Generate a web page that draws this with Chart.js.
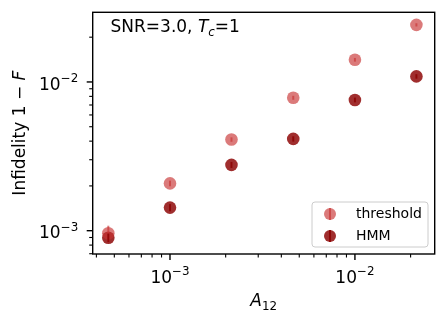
<!DOCTYPE html>
<html><head><meta charset="utf-8">
<script src="https://cdn.jsdelivr.net/npm/chart.js@4/dist/chart.umd.min.js"></script>
<style>html,body{margin:0;padding:0;background:#fff}</style>
</head><body>
<canvas id="c" width="448" height="324"></canvas>
<script>
// ---- data ----
const A12 = [4.64e-4, 1.0e-3, 2.15e-3, 4.64e-3, 1.0e-2, 2.15e-2];
const thresholdInf = [9.6e-4, 2.08e-3, 4.10e-3, 7.83e-3, 1.41e-2, 2.42e-2];
const thresholdErr = [1.2e-4, 0.9e-4, 1.4e-4, 2.4e-4, 4.0e-4, 6.0e-4];
const hmmInf = [8.97e-4, 1.43e-3, 2.77e-3, 4.14e-3, 7.57e-3, 1.09e-2];
const hmmErr = [0.6e-4, 0.8e-4, 1.3e-4, 1.7e-4, 2.8e-4, 3.8e-4];
const xMajorTicks = [1e-3, 1e-2];
const xMajorExp = ['\u22123', '\u22122'];
const yMajorTicks = [1e-3, 1e-2];
const yMajorExp = ['\u22123', '\u22122'];
const seriesLabels = ['threshold', 'HMM'];
const X_MIN = 3.82e-4, X_MAX = 2.70e-2;
const Y_MIN = 6.97e-4, Y_MAX = 2.94e-2;

const COL_T = 'rgba(200,50,50,0.65)';
const COL_H = 'rgba(139,0,0,0.82)';
const FONT = '"DejaVu Sans", sans-serif';
const FS = 17;

function minorTicks(lo, hi) {
  const out = [];
  for (let e = Math.floor(Math.log10(lo)); e <= Math.ceil(Math.log10(hi)); e++) {
    for (let k = 1; k <= 9; k++) {
      const v = k * Math.pow(10, e);
      if (v >= lo && v <= hi && k !== 1) out.push(v);
    }
  }
  return out;
}

function drawPow(ctx, x, baseline, exp, align) {
  ctx.font = FS + 'px ' + FONT;
  const w1 = ctx.measureText('10').width;
  ctx.font = (FS * 0.7) + 'px ' + FONT;
  const w2 = ctx.measureText(exp).width;
  const tot = w1 + w2;
  let x0 = align === 'center' ? x - tot / 2 : x - tot;
  ctx.textAlign = 'left';
  ctx.textBaseline = 'alphabetic';
  ctx.font = FS + 'px ' + FONT;
  ctx.fillText('10', x0, baseline);
  ctx.font = (FS * 0.7) + 'px ' + FONT;
  ctx.fillText(exp, x0 + w1, baseline - 7.6);
}

function drawRuns(ctx, runs, x, y, align) {
  // runs: [{t, font, dy}]
  let tot = 0;
  runs.forEach(r => { ctx.font = r.font; r.w = ctx.measureText(r.t).width; tot += r.w; });
  let cx = align === 'center' ? x - tot / 2 : x;
  ctx.textAlign = 'left';
  runs.forEach(r => { ctx.font = r.font; ctx.fillText(r.t, cx, y + (r.dy || 0)); cx += r.w; });
}

const decor = {
  id: 'decor',
  afterDatasetsDraw(chart) {
    const ctx = chart.ctx;
    const xs = chart.scales.x, ys = chart.scales.y;
    // error bars
    const sets = [[thresholdInf, thresholdErr, COL_T], [hmmInf, hmmErr, COL_H]];
    ctx.save();
    sets.forEach(([vals, errs, col]) => {
      ctx.strokeStyle = col; ctx.lineWidth = 2;
      vals.forEach((v, i) => {
        const px = xs.getPixelForValue(A12[i]);
        ctx.beginPath();
        ctx.moveTo(px, ys.getPixelForValue(v - errs[i]));
        ctx.lineTo(px, ys.getPixelForValue(v + errs[i]));
        ctx.stroke();
      });
    });
    ctx.restore();
  },
  afterDraw(chart) {
    const ctx = chart.ctx;
    const a = chart.chartArea;
    const xs = chart.scales.x, ys = chart.scales.y;
    ctx.save();
    ctx.fillStyle = '#000';
    ctx.strokeStyle = '#000';
    ctx.lineWidth = 1.4;
    // ticks
    const tick = (x1, y1, x2, y2) => { ctx.beginPath(); ctx.moveTo(x1, y1); ctx.lineTo(x2, y2); ctx.stroke(); };
    ctx.lineWidth = 1.1;
    minorTicks(X_MIN, X_MAX).forEach(v => { const p = xs.getPixelForValue(v); tick(p, a.bottom, p, a.bottom + 3.5); });
    minorTicks(Y_MIN, Y_MAX).forEach(v => { const p = ys.getPixelForValue(v); tick(a.left, p, a.left - 3.5, p); });
    ctx.lineWidth = 1.4;
    xMajorTicks.forEach((v, i) => {
      const p = xs.getPixelForValue(v);
      tick(p, a.bottom, p, a.bottom + 6);
      drawPow(ctx, p, 283, xMajorExp[i], 'center');
    });
    yMajorTicks.forEach((v, i) => {
      const p = ys.getPixelForValue(v);
      tick(a.left, p, a.left - 6, p);
      drawPow(ctx, a.left - 14.5, p + 7.8, yMajorExp[i], 'right');
    });
    // frame
    ctx.strokeRect(a.left, a.top, a.right - a.left, a.bottom - a.top);

    // x label A_12
    ctx.textBaseline = 'alphabetic';
    drawRuns(ctx, [
      { t: 'A', font: 'italic ' + FS + 'px ' + FONT },
      { t: '12', font: (FS * 0.7) + 'px ' + FONT, dy: 3.5 }
    ], (a.left + a.right) / 2, 306, 'center');

    // y label
    ctx.save();
    ctx.translate(21, (a.top + a.bottom) / 2);
    ctx.rotate(-Math.PI / 2);
    ctx.textBaseline = 'middle';
    drawRuns(ctx, [
      { t: 'Infidelity ', font: FS + 'px ' + FONT },
      { t: '1 \u2212 ', font: FS + 'px ' + FONT },
      { t: 'F', font: 'italic ' + FS + 'px ' + FONT }
    ], 0, 0, 'center');
    ctx.restore();

    // annotation
    ctx.textBaseline = 'alphabetic';
    drawRuns(ctx, [
      { t: 'SNR=3.0, ', font: FS + 'px ' + FONT },
      { t: 'T', font: 'italic ' + FS + 'px ' + FONT },
      { t: 'c', font: 'italic ' + (FS * 0.7) + 'px ' + FONT, dy: 3.5 },
      { t: '=1', font: FS + 'px ' + FONT }
    ], 110.5, 32, 'left');

    // legend
    const lx = 312, ly = 202, lw = 116, lh = 45;
    ctx.beginPath();
    ctx.roundRect(lx, ly, lw, lh, 3);
    ctx.fillStyle = 'rgba(255,255,255,0.8)';
    ctx.fill();
    ctx.strokeStyle = 'rgba(204,204,204,1)';
    ctx.lineWidth = 1;
    ctx.stroke();
    const rows = [[214, COL_T, seriesLabels[0]], [236, COL_H, seriesLabels[1]]];
    rows.forEach(([ry, col, lab]) => {
      ctx.fillStyle = col;
      ctx.beginPath(); ctx.arc(330, ry, 6, 0, Math.PI * 2); ctx.fill();
      ctx.strokeStyle = col; ctx.lineWidth = 2;
      ctx.beginPath(); ctx.moveTo(330, ry - 6); ctx.lineTo(330, ry + 6); ctx.stroke();
      ctx.fillStyle = '#000';
      ctx.font = '14px ' + FONT;
      ctx.textAlign = 'left';
      ctx.textBaseline = 'middle';
      ctx.fillText(lab, 356, ry + 0.5);
    });
    ctx.restore();
  }
};

new Chart(document.getElementById('c'), {
  type: 'scatter',
  data: {
    datasets: [
      { label: seriesLabels[0], data: A12.map((x, i) => ({ x, y: thresholdInf[i] })),
        backgroundColor: COL_T, borderWidth: 0, pointRadius: 6.3, pointHoverRadius: 6.3 },
      { label: seriesLabels[1], data: A12.map((x, i) => ({ x, y: hmmInf[i] })),
        backgroundColor: COL_H, borderWidth: 0, pointRadius: 6.3, pointHoverRadius: 6.3 }
    ]
  },
  options: {
    responsive: false,
    animation: false,
    devicePixelRatio: 1,
    events: [],
    layout: { padding: { left: 92.7, right: 13.3, top: 12.3, bottom: 70 } },
    plugins: { legend: { display: false }, tooltip: { enabled: false } },
    scales: {
      x: { type: 'logarithmic', min: X_MIN, max: X_MAX, display: false },
      y: { type: 'logarithmic', min: Y_MIN, max: Y_MAX, display: false }
    }
  },
  plugins: [decor]
});
</script>
</body></html>
